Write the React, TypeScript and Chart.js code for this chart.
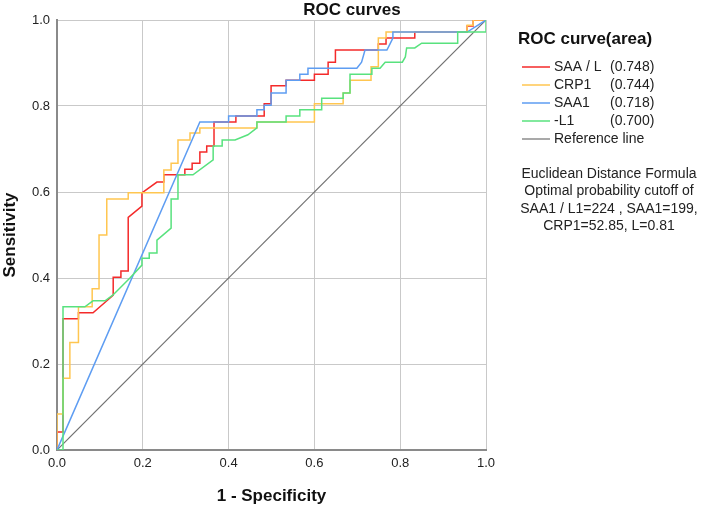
import React, { useEffect, useRef } from "react";
import { Chart, registerables } from "chart.js";

Chart.register(...registerables);

// ---- data ----
const seriesNames = ["SAA / L", "CRP1", "SAA1", "-L1"];
const areaLabels = ["(0.748)", "(0.744)", "(0.718)", "(0.700)"];
const referenceName = "Reference line";
const seriesColors = ["#f42a2a", "#ffc650", "#5e9df2", "#58e27e"];
const referenceColor = "#707070";

// ROC points [1 - specificity, sensitivity]
const saaLPoints: [number, number][] = [
  [0, 0], [0, 0.042], [0.014, 0.042], [0.014, 0.305], [0.05, 0.305], [0.05, 0.319],
  [0.084, 0.319], [0.131, 0.36], [0.131, 0.402], [0.149, 0.402], [0.149, 0.416],
  [0.166, 0.416], [0.166, 0.541], [0.198, 0.567], [0.198, 0.598], [0.233, 0.623],
  [0.249, 0.623], [0.249, 0.64], [0.298, 0.64], [0.298, 0.653], [0.315, 0.653],
  [0.315, 0.667], [0.333, 0.667], [0.333, 0.693], [0.349, 0.693], [0.349, 0.707],
  [0.366, 0.707], [0.366, 0.763], [0.417, 0.763], [0.417, 0.777], [0.483, 0.777],
  [0.483, 0.805], [0.499, 0.805], [0.499, 0.847], [0.534, 0.847], [0.534, 0.86],
  [0.6, 0.86], [0.6, 0.874], [0.632, 0.874], [0.632, 0.902], [0.649, 0.902],
  [0.649, 0.93], [0.749, 0.93], [0.749, 0.944], [0.767, 0.944], [0.767, 0.958],
  [0.834, 0.958], [0.834, 0.972], [0.956, 0.972], [0.956, 0.986], [0.97, 0.986],
  [0.97, 1], [1, 1],
];
const crp1Points: [number, number][] = [
  [0, 0], [0, 0.084], [0.014, 0.084], [0.014, 0.167], [0.03, 0.167], [0.03, 0.25],
  [0.05, 0.25], [0.05, 0.333], [0.082, 0.333], [0.082, 0.375], [0.098, 0.375],
  [0.098, 0.5], [0.116, 0.5], [0.116, 0.584], [0.166, 0.584], [0.166, 0.598],
  [0.249, 0.598], [0.249, 0.651], [0.266, 0.651], [0.266, 0.667], [0.282, 0.667],
  [0.282, 0.721], [0.31, 0.721], [0.31, 0.737], [0.333, 0.737], [0.333, 0.749],
  [0.466, 0.749], [0.466, 0.763], [0.6, 0.763], [0.6, 0.805], [0.667, 0.805],
  [0.667, 0.83], [0.683, 0.83], [0.683, 0.86], [0.732, 0.86], [0.732, 0.891],
  [0.749, 0.891], [0.749, 0.958], [0.767, 0.958], [0.767, 0.972], [0.956, 0.972],
  [0.956, 0.988], [0.97, 0.988], [0.97, 1], [1, 1],
];
const saa1Points: [number, number][] = [
  [0, 0], [0.333, 0.763], [0.4, 0.763], [0.4, 0.777], [0.466, 0.777], [0.466, 0.791],
  [0.483, 0.791], [0.483, 0.802], [0.499, 0.802], [0.499, 0.83], [0.534, 0.83],
  [0.534, 0.86], [0.566, 0.86], [0.566, 0.874], [0.585, 0.874], [0.585, 0.888],
  [0.699, 0.888], [0.71, 0.902], [0.718, 0.93], [0.769, 0.93], [0.776, 0.944],
  [0.783, 0.958], [0.783, 0.972], [0.956, 0.972], [1, 1],
];
const l1Points: [number, number][] = [
  [0, 0], [0.014, 0], [0.014, 0.333], [0.065, 0.333], [0.084, 0.347], [0.112, 0.347],
  [0.13, 0.36], [0.17, 0.4], [0.198, 0.43], [0.198, 0.446], [0.215, 0.446],
  [0.215, 0.458], [0.233, 0.458], [0.233, 0.488], [0.266, 0.516], [0.266, 0.584],
  [0.282, 0.584], [0.282, 0.64], [0.317, 0.64], [0.364, 0.675], [0.364, 0.707],
  [0.385, 0.707], [0.385, 0.721], [0.415, 0.721], [0.445, 0.733], [0.466, 0.749],
  [0.466, 0.763], [0.534, 0.763], [0.534, 0.777], [0.566, 0.777], [0.566, 0.791],
  [0.617, 0.791], [0.617, 0.818], [0.667, 0.818], [0.667, 0.83], [0.683, 0.83],
  [0.683, 0.874], [0.734, 0.874], [0.734, 0.888], [0.753, 0.888], [0.765, 0.902],
  [0.805, 0.902], [0.812, 0.914], [0.815, 0.935], [0.834, 0.935], [0.85, 0.946],
  [0.934, 0.946], [0.934, 0.972], [1, 0.972], [1, 1],
];
const referencePoints: [number, number][] = [[0, 0], [1, 1]];

const tickValues = [0, 0.2, 0.4, 0.6, 0.8, 1.0];
const chartTitle = "ROC curves";
const xTitle = "1 - Specificity";
const yTitle = "Sensitivity";
const legendTitle = "ROC curve(area)";
const noteLines = [
  "Euclidean Distance Formula",
  "Optimal probability cutoff of",
  "SAA1 / L1=224 , SAA1=199,",
  "CRP1=52.85, L=0.81",
];

const FONT = "'Liberation Sans', Arial, Helvetica, sans-serif";

const overlayPlugin = {
  id: "rocOverlay",
  afterDraw(chart: any) {
    const ctx: CanvasRenderingContext2D = chart.ctx;
    const { left, right, top, bottom } = chart.chartArea;
    ctx.save();
    ctx.fillStyle = "#111";
    ctx.font = `bold 17px ${FONT}`;
    ctx.textAlign = "center";
    ctx.textBaseline = "middle";
    ctx.fillText(chartTitle, 352, 10);
    ctx.fillText(xTitle, (left + right) / 2, 496);
    ctx.save();
    ctx.translate(10, (top + bottom) / 2);
    ctx.rotate(-Math.PI / 2);
    ctx.fillText(yTitle, 0, 0);
    ctx.restore();

    // legend
    ctx.textAlign = "left";
    ctx.fillText(legendTitle, 518, 39);
    ctx.font = `14px ${FONT}`;
    ctx.fillStyle = "#222";
    const names = [...seriesNames, referenceName];
    const colors = [...seriesColors, referenceColor];
    names.forEach((name, i) => {
      const y = 67 + i * 18;
      ctx.strokeStyle = colors[i];
      ctx.lineWidth = i < seriesNames.length ? 1.5 : 1.2;
      ctx.beginPath();
      ctx.moveTo(522, y);
      ctx.lineTo(550, y);
      ctx.stroke();
      ctx.fillText(name, 554, y);
      if (i < areaLabels.length) ctx.fillText(areaLabels[i], 610, y);
    });

    // note
    ctx.textAlign = "center";
    noteLines.forEach((line, i) => {
      ctx.fillText(line, 609, 174 + i * 17.5);
    });
    ctx.restore();
  },
};

export default function App() {
  const canvasRef = useRef<HTMLCanvasElement | null>(null);

  useEffect(() => {
    document.body.style.margin = "0";
    const canvas = canvasRef.current;
    if (!canvas) return;
    const toXY = (pts: [number, number][]) => pts.map(([x, y]) => ({ x, y }));
    const seriesData = [saaLPoints, crp1Points, saa1Points, l1Points];

    const datasets: any[] = seriesData.map((pts, i) => ({
      label: seriesNames[i],
      data: toXY(pts),
      borderColor: seriesColors[i],
      backgroundColor: seriesColors[i],
      borderWidth: 1.5,
      pointRadius: 0,
      showLine: true,
      fill: false,
      tension: 0,
      order: 4 - i,
    }));
    datasets.push({
      label: referenceName,
      data: toXY(referencePoints),
      borderColor: referenceColor,
      backgroundColor: referenceColor,
      borderWidth: 1.2,
      pointRadius: 0,
      showLine: true,
      fill: false,
      order: 10,
    });

    const tickFont = { family: FONT, size: 13 };
    const chart = new Chart(canvas, {
      type: "scatter",
      data: { datasets },
      options: {
        responsive: false,
        animation: false,
        devicePixelRatio: 1,
        layout: { padding: { left: 0, top: 20, right: 228, bottom: 0 } },
        plugins: {
          legend: { display: false },
          tooltip: { enabled: false },
          title: { display: false },
        },
        scales: {
          x: {
            type: "linear",
            min: 0,
            max: 1,
            afterBuildTicks: (scale: any) => {
              scale.ticks = tickValues.map((v) => ({ value: v }));
            },
            afterFit: (scale: any) => {
              scale.height = 58;
            },
            ticks: {
              padding: 6,
              color: "#222",
              font: tickFont,
              maxRotation: 0,
              callback: (v: any) => Number(v).toFixed(1),
            },
            grid: { color: "#c9c9c9", lineWidth: 1, drawTicks: false },
            border: { display: true, color: "#8a8a8a", width: 2 },
          },
          y: {
            type: "linear",
            min: 0,
            max: 1,
            afterBuildTicks: (scale: any) => {
              scale.ticks = tickValues.map((v) => ({ value: v }));
            },
            afterFit: (scale: any) => {
              scale.width = 57;
            },
            ticks: {
              padding: 7,
              color: "#222",
              font: tickFont,
              callback: (v: any) => Number(v).toFixed(1),
            },
            grid: { color: "#c9c9c9", lineWidth: 1, drawTicks: false },
            border: { display: true, color: "#8a8a8a", width: 2 },
          },
        },
      },
      plugins: [overlayPlugin],
    } as any);

    return () => chart.destroy();
  }, []);

  return (
    <canvas
      ref={canvasRef}
      width={714}
      height={508}
      style={{ display: "block", width: 714, height: 508 }}
    />
  );
}
